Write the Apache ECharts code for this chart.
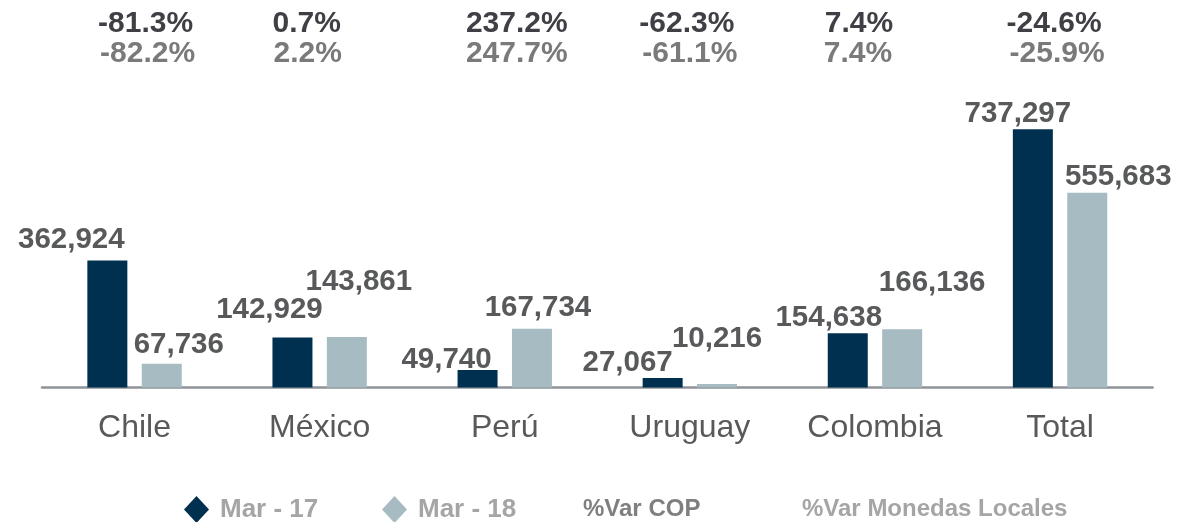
<!DOCTYPE html>
<html>
<head>
<meta charset="utf-8">
<title>Mar 17 vs Mar 18</title>
<script src="https://cdn.jsdelivr.net/npm/echarts@6/dist/echarts.min.js"></script>
<style>
  html, body { margin: 0; padding: 0; background: #ffffff; }
  #chart { width: 1177px; height: 522px; }
</style>
</head>
<body>
<div id="chart"></div>
<script>
// Countries and values
const categories = ['Chile', 'México', 'Perú', 'Uruguay', 'Colombia', 'Total'];
const mar17 = [362924, 142929, 49740, 27067, 154638, 737297];
const mar18 = [67736, 143861, 167734, 10216, 166136, 555683];
// Year-on-year variation, in COP and in local currencies (%)
const varCOP = [-81.3, 0.7, 237.2, -62.3, 7.4, -24.6];
const varLocal = [-82.2, 2.2, 247.7, -61.1, 7.4, -25.9];

// Hand-placed label nudges [dx, dy] in pixels
const nudge17 = [[-36, -6], [-23, -13], [-31, 5], [-35, 0], [-19, 0], [-15, 0]];
const nudge18 = [[17, -4], [12, -40], [6, -6], [0, -30], [30, -31], [31, -1]];
const nudgeCOP = [11, -13, 12, -3, -16, -6];
const nudgeLocal = [13, -12, 12, 0, -17, -3];

const FONT = '"Liberation Sans", Arial, Helvetica, sans-serif';
const NAVY = '#00304F';
const STEEL = '#A7BBC2';

const fmt = v => v.toLocaleString('en-US');

function barData(values, nudges) {
  return values.map((v, i) => ({
    value: v,
    label: { offset: nudges[i] }
  }));
}

function pctData(values, rowName, nudges) {
  return values.map((v, i) => ({
    value: [categories[i], rowName, v],
    label: { offset: [nudges[i], 0] }
  }));
}

const valueLabel = {
  show: true,
  position: 'top',
  distance: 0,
  fontFamily: FONT,
  fontSize: 29.5,
  fontWeight: 'bold',
  color: '#58595B',
  formatter: p => fmt(p.value)
};

function pctLabel(color) {
  return {
    show: true,
    position: 'inside',
    fontFamily: FONT,
    fontSize: 30,
    fontWeight: 'bold',
    color: color,
    formatter: p => p.value[2].toFixed(1) + '%'
  };
}

function legendBlock(name, left, color, withIcon, size) {
  return {
    data: [{ name: name }],
    left: left,
    top: 496,
    padding: 0,
    orient: 'horizontal',
    selectedMode: false,
    icon: 'diamond',
    itemWidth: withIcon ? 25 : 0,
    itemHeight: 27,
    itemStyle: withIcon ? { opacity: 1 } : { opacity: 0 },
    textStyle: {
      fontFamily: FONT,
      fontSize: size,
      fontWeight: 'bold',
      color: color,
      padding: withIcon ? [4, 0, 0, 6] : [4, 0, 0, 0]
    }
  };
}

const chart = echarts.init(document.getElementById('chart'), null, { renderer: 'canvas' });

chart.setOption({
  animation: false,
  backgroundColor: '#ffffff',
  grid: [
    { left: 42, right: 24.4, top: 107.3, bottom: 134.5 },
    { left: 42, right: 24.4, top: 24, height: 30 }
  ],
  legend: [
    legendBlock('Mar - 17', 184, '#A5A5A5', true, 26),
    legendBlock('Mar - 18', 382, '#A5A5A5', true, 26),
    legendBlock('%Var COP', 578, '#7F7F7F', false, 24),
    legendBlock('%Var Monedas Locales', 797, '#A5A5A5', false, 24)
  ],
  xAxis: [
    {
      type: 'category',
      gridIndex: 0,
      data: categories,
      boundaryGap: true,
      axisTick: { show: false },
      axisLine: { show: true, lineStyle: { color: '#8E9398', width: 2.5 } },
      axisLabel: {
        margin: 25,
        fontFamily: FONT,
        fontSize: 32,
        color: '#595959'
      },
      splitLine: { show: false }
    },
    {
      type: 'category',
      gridIndex: 1,
      data: categories,
      boundaryGap: true,
      show: false
    }
  ],
  yAxis: [
    {
      type: 'value',
      gridIndex: 0,
      min: 0,
      max: 800000,
      show: false,
      splitLine: { show: false }
    },
    {
      type: 'category',
      gridIndex: 1,
      data: ['%Var COP', '%Var Monedas Locales'],
      inverse: true,
      boundaryGap: false,
      show: false
    }
  ],
  series: [
    {
      name: 'Mar - 17',
      type: 'bar',
      xAxisIndex: 0,
      yAxisIndex: 0,
      barWidth: 40,
      barGap: '36%',
      itemStyle: { color: NAVY },
      label: valueLabel,
      data: barData(mar17, nudge17)
    },
    {
      name: 'Mar - 18',
      type: 'bar',
      xAxisIndex: 0,
      yAxisIndex: 0,
      barWidth: 40,
      barGap: '36%',
      itemStyle: { color: STEEL },
      label: valueLabel,
      data: barData(mar18, nudge18)
    },
    {
      name: '%Var COP',
      type: 'scatter',
      xAxisIndex: 1,
      yAxisIndex: 1,
      symbolSize: 0,
      clip: false,
      itemStyle: { color: '#3F3F45', opacity: 1 },
      label: pctLabel('#3F3F45'),
      data: pctData(varCOP, '%Var COP', nudgeCOP)
    },
    {
      name: '%Var Monedas Locales',
      type: 'scatter',
      xAxisIndex: 1,
      yAxisIndex: 1,
      symbolSize: 0,
      clip: false,
      itemStyle: { color: '#7A7A7A', opacity: 1 },
      label: pctLabel('#7A7A7A'),
      data: pctData(varLocal, '%Var Monedas Locales', nudgeLocal)
    }
  ]
});
</script>
</body>
</html>
